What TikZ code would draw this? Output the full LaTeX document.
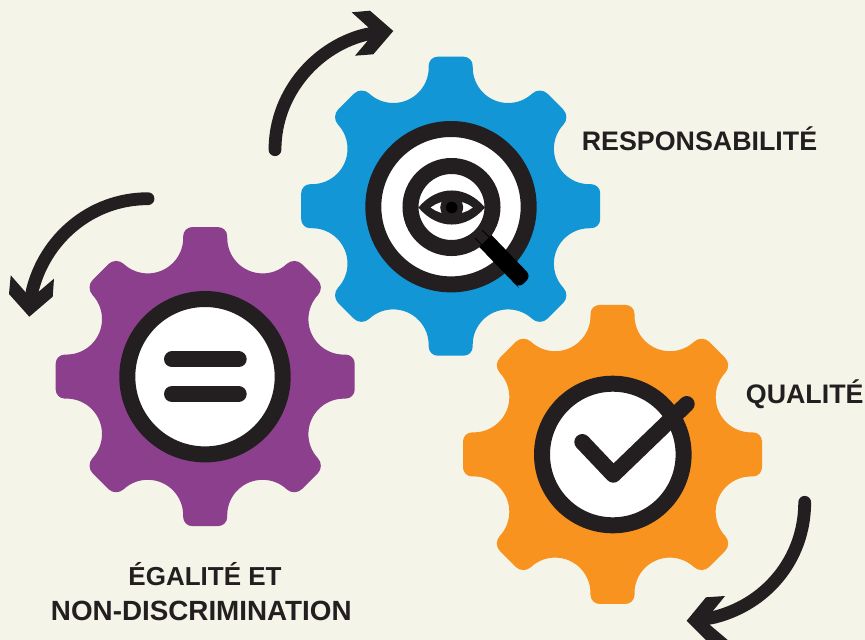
\documentclass[tikz,border=0pt]{standalone}
\usepackage{fontspec}
\setmainfont{Liberation Sans}
\definecolor{bgc}{HTML}{F4F4E8}
\definecolor{dk}{HTML}{231F20}
\definecolor{gblue}{HTML}{1296D6}
\definecolor{gpurple}{HTML}{8C3F8C}
\definecolor{gorange}{HTML}{F7931E}
\newcommand{\gearshape}[3]{%
  \begin{scope}[shift={(#1,#2)}]
  \fill[#3] ([rotate=0]140.5,-22)
    \foreach \a [evaluate=\a as \b using \a+45] in {0,90,180,270} {
      -- ([rotate=\a]140.5,-22) arc[start angle=\a-90,end angle=\a,radius=9]
      -- ([rotate=\a]149.5,13) arc[start angle=\a,end angle=\a+90,radius=9]
      -- ([rotate=\a]138.6,22) arc[start angle=\a-90,end angle=\a-223,radius=35.4]
      arc[start angle=\b-88,end angle=\b,radius=11]
      -- ([rotate=\b]148,11) arc[start angle=\b,end angle=\b+88,radius=11]
      arc[start angle=\b-92,end angle=\b-225,radius=35.4]
    } -- cycle;
  \end{scope}}
\tikzset{
  shaft/.style={draw=dk,line width=12.8,line cap=round},
  head/.style={fill=dk},
  ring/.style={draw=dk,fill=white,line width=16},
  bar/.style={draw=dk,line width=16,line cap=round},
  label/.style={text=dk,anchor=base,inner sep=0pt,font=\fontsize{26.8}{32}\selectfont\bfseries}
}
\begin{document}
\begin{tikzpicture}[x=1pt,y=1pt]
\useasboundingbox (0,-640) rectangle (865,0);
\clip (0,-640) rectangle (865,0);
\fill[bgc] (0,-640) rectangle (865,0);
% gears
\gearshape{205.2}{-376.6}{gpurple}
\gearshape{450.7}{-206.2}{gblue}
\gearshape{612.5}{-454.4}{gorange}
% purple icon
\draw[ring] (205,-376.7) circle[radius=77.7];
\draw[bar] (172,-359.3) -- (238.7,-359.3);
\draw[bar] (172,-394) -- (238.7,-394);
% blue icon
\draw[ring] (451,-206.7) circle[radius=77.7];
\draw[ring] (451.5,-207) circle[radius=41];
\begin{scope}[shift={(451.7,-207.5)}]
  \fill[dk] (-33.3,0) .. controls (-14,22.7) and (14,22.7) .. (33.3,0)
            .. controls (14,-22.7) and (-14,-22.7) .. (-33.3,0) -- cycle;
  \fill[white] (-21,0) .. controls (-10,9) and (10,9) .. (21,0)
            .. controls (10,-9) and (-10,-9) .. (-21,0) -- cycle;
  \fill[dk] (0,0) circle[radius=11.5];
  \fill[black] (0,0) circle[radius=5.8];
\end{scope}
\fill[black,rounded corners=6] (491.5,-235) -- (531,-276) -- (519,-288) -- (479.5,-247);
\fill[black] (491.5,-235) -- (519,-288) -- (479.5,-247) -- cycle;
\draw[black,line width=1] (482,-230) -- (491,-239);
\draw[black,line width=1] (475,-238) -- (484,-247);
% orange icon
\draw[ring] (612.8,-454.5) circle[radius=70.8];
\draw[draw=dk,line width=16,line cap=round,line join=round] (582.3,-442) -- (613.3,-474.7) -- (686.7,-404);
% arrows
\draw[shaft] (275,-149.7) .. controls (275,-92) and (318,-45) .. (368,-34);
\fill[head] (351.7,-12.3) -- (370,-10.7) -- (393.3,-31) -- (373.3,-54.3) -- (355,-55.7) -- (367.7,-40.7) -- (368.3,-27.3) -- cycle;
\draw[shaft] (148,-198.7) .. controls (90,-198.7) and (44,-240) .. (32,-292);
\fill[head] (29.3,-316.7) -- (9,-294) -- (10.7,-275.3) -- (26,-292.7) -- (38.7,-291.7) -- (54,-278.7) -- (52.7,-296.7) -- cycle;
\draw[shaft] (804.7,-502.3) .. controls (804.7,-560) and (765,-606) .. (711,-618);
\fill[head] (686.7,-620.7) -- (706,-597.3) -- (725,-596) -- (712.3,-611.7) -- (710,-625) -- (727.7,-640) -- (729,-645) -- (710,-644) -- cycle;
% labels
\node[label] (resp) at (699.5,-150) {RESPONSABILITÉ};
\node[label] (qual) at (804.7,-403.3) {QUALITÉ};
\node[label,font=\fontsize{26}{32}\selectfont\bfseries] (egal) at (205,-585) {ÉGALITÉ ET};
\node[label,font=\fontsize{27.8}{32}\selectfont\bfseries] (nond) at (201.3,-620) {NON-DISCRIMINATION};
\end{tikzpicture}
\end{document}
